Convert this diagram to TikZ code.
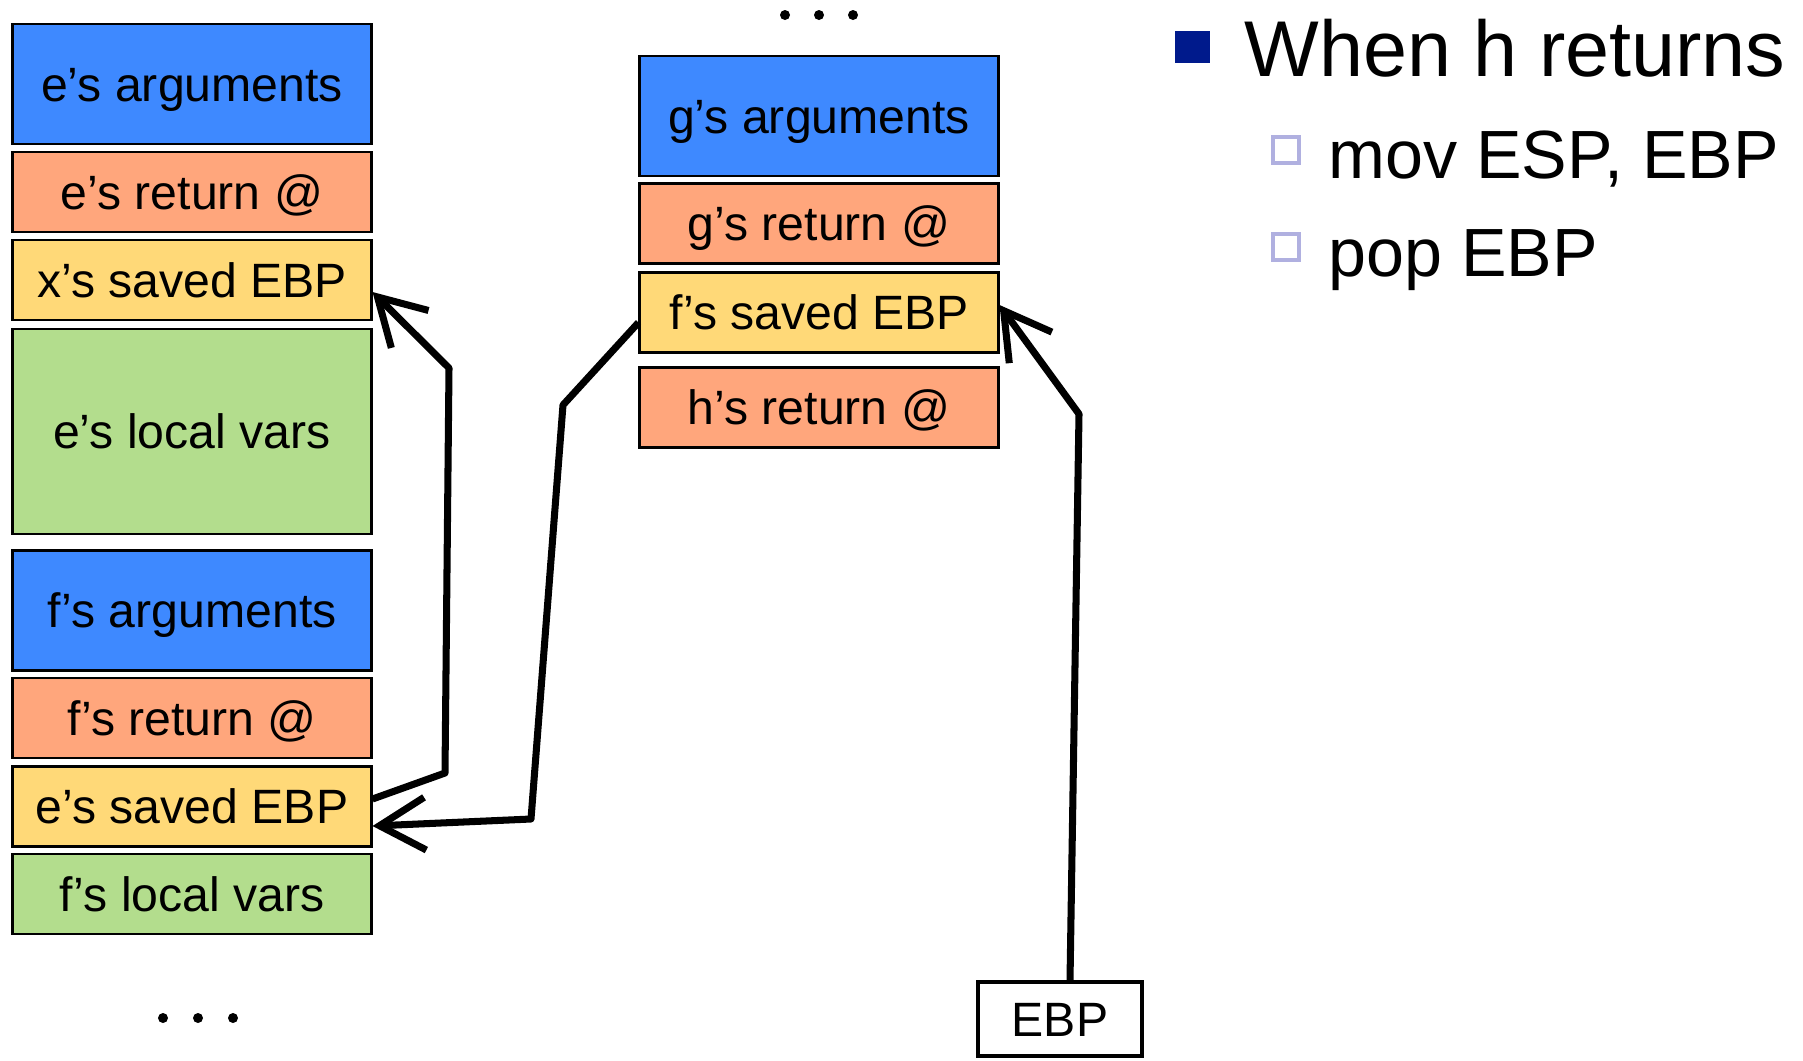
\documentclass[tikz,border=0pt]{standalone}
\usepackage{fontspec}
\setmainfont{Liberation Sans}
\usetikzlibrary{arrows.meta}

\definecolor{argblue}{RGB}{62,137,255}
\definecolor{retorange}{RGB}{255,166,124}
\definecolor{ebpyellow}{RGB}{255,217,120}
\definecolor{localgreen}{RGB}{179,221,141}
\definecolor{bulletblue}{RGB}{0,26,140}
\definecolor{subbullet}{RGB}{176,176,224}

\begin{document}
\begin{tikzpicture}[x=0.01cm, y=-0.01cm,
  frame/.style={draw=black, line width=0.8pt, minimum width=3.58cm, inner sep=0pt,
    text height=9.8pt, text depth=0pt, font=\fontsize{13.7}{16}\selectfont},
  args/.style={frame, fill=argblue, minimum height=1.2cm},
  ret/.style={frame, fill=retorange, minimum height=0.8cm},
  saved/.style={frame, fill=ebpyellow, minimum height=0.8cm},
  locals/.style={frame, fill=localgreen},
  ptr/.style={line width=2pt, line join=round, -{Straight Barb[length=13pt, width=15pt]}}]

  \useasboundingbox (0,0) rectangle (1803,1060);

  % Frames of e and f
  \node[args] (eargs) at (192,84) {e’s arguments};
  \node[ret] (eret) at (192,192) {e’s return @};
  \node[saved] (xebp) at (192,280) {x’s saved EBP};
  \node[locals, minimum height=2.05cm] (elocal) at (192,431.5) {e’s local vars};
  \node[args] (fargs) at (192,610.5) {f’s arguments};
  \node[ret] (fret) at (192,718) {f’s return @};
  \node[saved] (eebp) at (192,806.5) {e’s saved EBP};
  \node[locals, minimum height=0.8cm] (flocal) at (192,894) {f’s local vars};
  \foreach \x in {163,198,233} \fill (\x,1018) circle (0.05cm);

  % Frames of g and h
  \foreach \x in {785,819,853} \fill (\x,15) circle (0.05cm);
  \node[args] (gargs) at (819,116) {g’s arguments};
  \node[ret] (gret) at (819,223.5) {g’s return @};
  \node[saved] (febp) at (819,312.5) {f’s saved EBP};
  \node[ret] (hret) at (819,407.5) {h’s return @};

  % EBP register
  \node[draw, line width=1.2pt, minimum width=1.64cm, minimum height=0.74cm, inner sep=0pt,
    text height=9.8pt, text depth=0pt, font=\fontsize{13.7}{16}\selectfont] (ebp) at (1060,1019) {EBP};

  % Chain of saved EBPs
  \draw[ptr] ([yshift=0.075cm]eebp.east) -- (445,773) -- (449,368) -- ([yshift=-0.12cm]xebp.east);
  \draw[ptr] ([yshift=-0.1cm]febp.west) -- (563,405) -- (531,819) -- ([yshift=-0.195cm]eebp.east);
  \draw[ptr] ([xshift=0.1cm]ebp.north) -- (1079,414) -- ([yshift=0.075cm]febp.east);

  % Bullet text
  \fill[bulletblue] (1175,31) rectangle (1210,63);
  \node[anchor=base west, inner sep=0pt, font=\fontsize{22.5}{27}\selectfont] (title) at (1244,76) {When h returns};
  \draw[subbullet, line width=1pt] (1273,137) rectangle (1299,163);
  \node[anchor=base west, inner sep=0pt, font=\fontsize{19.4}{23}\selectfont] (step1) at (1328,178) {mov ESP, EBP};
  \draw[subbullet, line width=1pt] (1273,234) rectangle (1299,260);
  \node[anchor=base west, inner sep=0pt, font=\fontsize{19.4}{23}\selectfont] (step2) at (1328,276) {pop EBP};

\end{tikzpicture}
\end{document}
